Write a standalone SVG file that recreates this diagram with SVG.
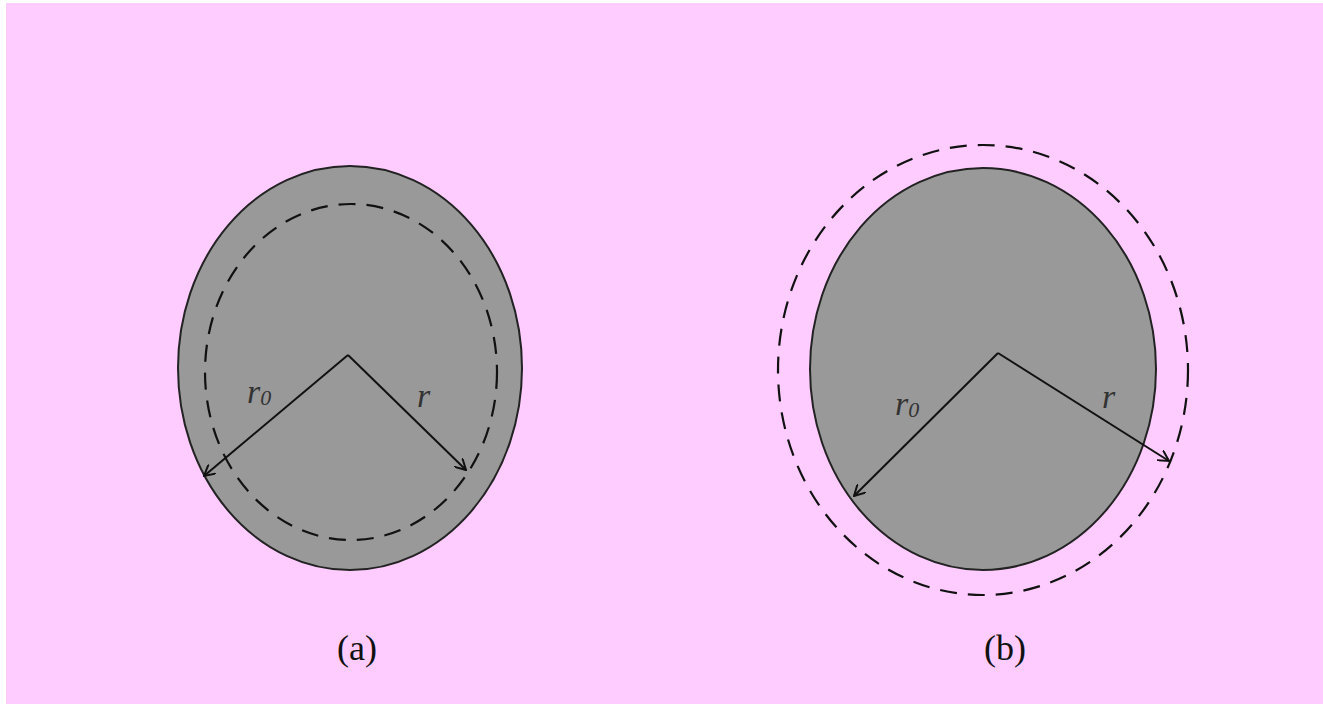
<svg xmlns="http://www.w3.org/2000/svg" width="1323" height="704" viewBox="0 0 1323 704">
<defs>
<style>
.body{fill:#999999;stroke:#222222;stroke-width:2}
.dash{fill:none;stroke:#111111;stroke-width:2.2;stroke-dasharray:17 11}
.arm{stroke:#111111;stroke-width:2;fill:none;marker-end:url(#ah)}
.lbl{font-family:"Liberation Serif",serif;font-style:italic;font-size:34px;fill:#333333}
.cap{font-family:"Liberation Serif",serif;font-size:36px;fill:#111111}
</style>
<marker id="ah" viewBox="0 0 12 12" refX="11" refY="6" markerWidth="12" markerHeight="12" markerUnits="userSpaceOnUse" orient="auto">
<path d="M0,0 L11,6 L0,12" fill="none" stroke="#111111" stroke-width="2"/>
</marker>
</defs>
<rect x="0" y="0" width="1323" height="704" fill="#ffffff"/>
<rect x="6" y="3" width="1317" height="701" fill="#FFCCFF"/>
<g id="a">
<ellipse class="body" cx="350" cy="368" rx="172" ry="202"/>
<ellipse class="dash" cx="351" cy="372" rx="146" ry="168"/>
</g>
<g id="b">
<ellipse class="body" cx="983" cy="369" rx="173" ry="201"/>
<ellipse class="dash" cx="983" cy="370" rx="205" ry="225"/>
</g>
<g id="connectors">
<line class="arm" x1="348" y1="355" x2="204" y2="476"/>
<line class="arm" x1="348" y1="355" x2="466" y2="470"/>
<line class="arm" x1="998" y1="353" x2="854" y2="496"/>
<line class="arm" x1="998" y1="353" x2="1169" y2="461"/>
</g>
<g id="labels">
<text class="lbl" x="247" y="403">r<tspan font-size="22" dy="2">0</tspan></text>
<text class="lbl" x="417" y="407">r</text>
<text class="lbl" x="895" y="415">r<tspan font-size="22" dy="2">0</tspan></text>
<text class="lbl" x="1102" y="408">r</text>
<text class="cap" x="357" y="660" text-anchor="middle">(a)</text>
<text class="cap" x="1005" y="660" text-anchor="middle">(b)</text>
</g>
</svg>
